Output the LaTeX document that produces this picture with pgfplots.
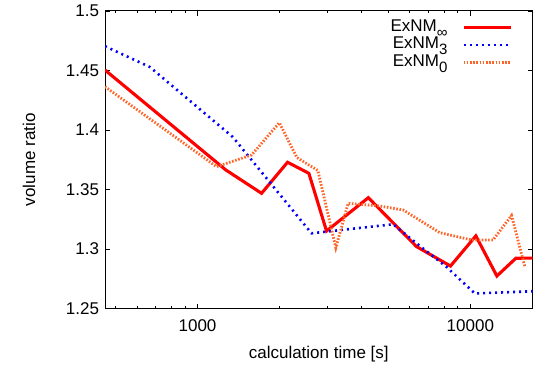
\documentclass[border=0pt]{standalone}
\usepackage{fontspec}
\setmainfont{Liberation Sans}
\usepackage{pgfplots}
\pgfplotsset{compat=1.18}
\definecolor{exorange}{RGB}{255,100,40}
\newcommand{\lfont}{\fontsize{17bp}{20bp}\selectfont}
\newcommand{\sub}[1]{\raisebox{-6bp}{\fontsize{15bp}{15bp}\selectfont #1}}
\begin{document}
\begin{tikzpicture}
\begin{axis}[
  name=ax,
  scale only axis,
  width=427.5bp, height=297.5bp,
  xmode=log,
  xmin=458, xmax=16900,
  ymin=1.25, ymax=1.5,
  xtick={1000,10000}, xticklabels={1000,10000},
  minor xtick={500,600,700,800,900,2000,3000,4000,5000,6000,7000,8000,9000},
  ytick={1.25,1.3,1.35,1.4,1.45,1.5},
  yticklabels={1.25,1.3,1.35,1.4,1.45,1.5},
  tick align=inside,
  major tick length=5bp, minor tick length=2.5bp,
  every tick/.style={black, line width=0.8bp},
  axis line style={line width=1bp},
  tick label style={font=\lfont},
  xticklabel style={yshift=-8bp},
  yticklabel style={xshift=-2.5bp},
  label style={font=\lfont},
  xlabel={calculation time [s]},
  ylabel={volume ratio},
  xlabel style={at={(axis description cs:0.5,-0.1664)}, anchor=base},
  ylabel style={at={(axis description cs:-0.1637,0.5)}, anchor=base},
  legend plot pos=right,
  legend cell align=right,
  legend style={draw=none, fill=none, at={(axis description cs:0.9527,0.975)}, anchor=north east, font=\lfont, inner sep=0pt, column sep=14bp, row sep=0pt, nodes={inner sep=0.5bp, text height=12bp, text depth=4.5bp}},
  legend image code/.code={\draw[#1] (0bp,0bp) -- (47bp,0bp);},
]
\addplot[red, line width=3.1bp] coordinates {
(458,1.4504) (1270,1.3664) (1717,1.3468) (2138,1.3729) (2559,1.3636) (2971,1.3151) (4228,1.3431) (6350,1.3020) (8459,1.2857) (10476,1.3110) (12510,1.2773) (14685,1.2922) (16900,1.2924)
};
\addlegendentry{ExNM\sub{∞}}
\addplot[blue, line width=2.6bp, dash pattern=on 2bp off 4bp] coordinates {
(458,1.4704) (669,1.4529) (1347,1.3941) (2617,1.3132) (5212,1.3208) (6350,1.3048) (8181,1.2849) (10387,1.2626) (16900,1.2645)
};
\addlegendentry{ExNM\sub{3}}
\addplot[exorange, line width=2.8bp, dash pattern=on 1.6bp off 1.6bp] coordinates {
(458,1.4364) (1174,1.3692) (1578,1.3790) (1995,1.4061) (2312,1.3769) (2761,1.3660) (3213,1.3010) (3566,1.3384) (4657,1.3361) (5672,1.3328) (7727,1.3137) (10102,1.3076) (12120,1.3076) (14160,1.3282) (15840,1.2851)
};
\addlegendentry{ExNM\sub{0}}
\end{axis}
\pgfresetboundingbox
\path ([shift={(-105bp,-57.5bp)}]ax.south west) rectangle ([shift={(1.5bp,11bp)}]ax.north east);
\end{tikzpicture}
\end{document}
